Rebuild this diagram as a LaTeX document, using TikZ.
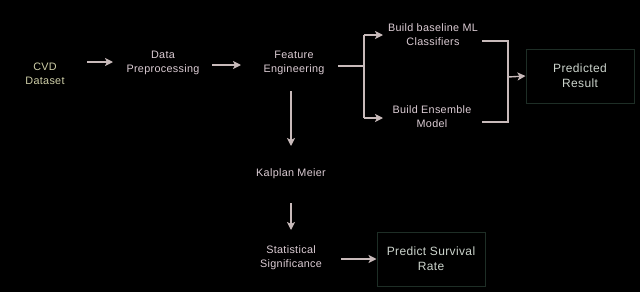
\documentclass[tikz,border=0pt]{standalone}
\usepackage{fontspec}
\setmainfont[LetterSpace=3]{Liberation Sans}
\usetikzlibrary{arrows.meta}
\definecolor{arrowc}{HTML}{C8BABA}
\definecolor{txtc}{HTML}{DCCCD4}
\definecolor{cvdc}{HTML}{CFCFA8}
\definecolor{resc}{HTML}{CCD4CC}
\definecolor{boxc}{HTML}{1E2E26}
\tikzset{
  lbl/.style={text=txtc, font=\fontsize{10.8}{14}\selectfont, align=center, inner sep=1pt},
  outbox/.style={lbl, draw=boxc, line width=1pt, minimum width=108pt, minimum height=54pt, text=resc, font=\fontsize{12}{15}\selectfont},
  arr/.style={draw=arrowc, line width=1.4pt, -{Stealth[length=8pt,width=8pt,inset=2pt]}},
  ln/.style={draw=arrowc, line width=1.4pt},
}
\begin{document}
\begin{tikzpicture}[x=1pt,y=-1pt]
\fill[black] (0,0) rectangle (640,292);
\useasboundingbox (0,0) rectangle (640,292);
\node[lbl, text=cvdc] (cvd) at (45,74) {CVD\\Dataset};
\node[lbl] (pre) at (163,63) {Data\\Preprocessing};
\node[lbl] (fe) at (294,63) {Feature\\Engineering};
\node[lbl] (bml) at (433,35) {Build baseline ML\\Classifiers};
\node[lbl] (ens) at (432,117) {Build Ensemble\\Model};
\node[outbox] (res) at (580,76) {Predicted\\Result};
\node[lbl] (km) at (291,174) {Kalplan Meier};
\node[lbl] (ss) at (291,258) {Statistical\\Significance};
\node[outbox] (psr) at (431,259) {Predict Survival\\Rate};
\coordinate (br) at (364,66);
\coordinate (mg) at (508,77);
\draw[arr] (87,62) -- (113,62);
\draw[arr] (212,65) -- (241,65);
\draw[ln] (338,66) -- (br);
\draw[arr] (br |- 0,35) -- (383,35);
\draw[arr] (br |- 0,118) -- (383,118);
\draw[ln] (br |- 0,35) -- (br |- 0,118);
\draw[ln] (482,41) -- (508,41) -- (508,122) -- (482,122);
\draw[arr] (mg) -- (res.west);
\draw[arr] (291,91) -- (291,146);
\draw[arr] (291,203) -- (291,230);
\draw[arr] (341,259) -- (psr.west);
\end{tikzpicture}
\end{document}
